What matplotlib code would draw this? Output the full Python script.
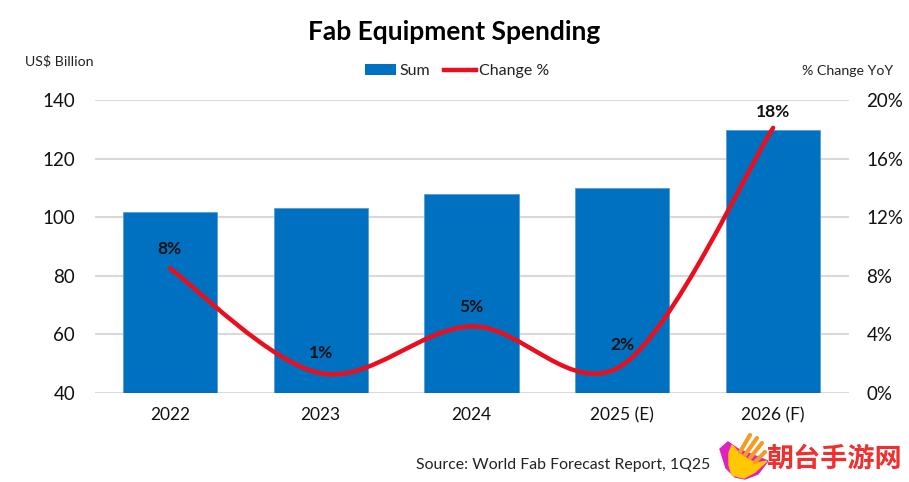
import matplotlib
matplotlib.use("Agg")
import matplotlib.pyplot as plt
from matplotlib.path import Path
from matplotlib.patches import PathPatch, Polygon, Patch
from matplotlib.lines import Line2D

plt.rcParams['font.family'] = ['Lato', 'DejaVu Sans']

years = ['2022', '2023', '2024', '2025 (E)', '2026 (F)']
spending = [101.8, 103.2, 107.8, 109.8, 129.8]
change = [8.5, 1.35, 4.55, 1.9, 18.1]
change_labels = ['8%', '1%', '5%', '2%', '18%']
left_ticks = [40, 60, 80, 100, 120, 140]
right_ticks = [0, 4, 8, 12, 16, 20]

BLUE = '#0070C0'
RED = '#EA0F1E'
W, H = 909, 482

fig = plt.figure(figsize=(W / 100, H / 100), dpi=100)
ax = fig.add_axes([94.5 / W, 1 - 393 / H, 754 / W, 293 / H])
ax2 = ax.twinx()

xs = list(range(len(years)))
ax.bar(xs, spending, width=0.625, color=BLUE, edgecolor='#5B9BD5', linewidth=0.6, zorder=3)
ax.set_xlim(-0.5, 4.5)
ax.set_ylim(40, 140)
ax.set_yticks(left_ticks)
ax.set_xticks(xs, years)
ax.grid(axis='y', color='#D9D9D9', linewidth=1.5, zorder=0)
ax.set_axisbelow(True)
ax.tick_params(axis='y', length=0, labelsize=13.5, labelcolor='#111111', pad=14)
ax.tick_params(axis='x', length=0, labelsize=12.5, labelcolor='#111111', pad=10)

ax2.set_ylim(0, 20)
ax2.set_yticks(right_ticks, [f'{t}%' for t in right_ticks])
ax2.tick_params(axis='y', length=0, labelsize=13.5, labelcolor='#111111', pad=13)
for a in (ax, ax2):
    for s in a.spines.values():
        s.set_visible(False)

# smoothed line like Excel, bezier segments through the data points
verts = [(xs[0], change[0])]
codes = [Path.MOVETO]
n = len(xs)
for i in range(n - 1):
    x0, y0 = xs[max(i - 1, 0)], change[max(i - 1, 0)]
    x1, y1 = xs[i], change[i]
    x2, y2 = xs[i + 1], change[i + 1]
    x3, y3 = xs[min(i + 2, n - 1)], change[min(i + 2, n - 1)]
    verts += [(x1 + (x2 - x0) / 6, y1 + (y2 - y0) / 6),
              (x2 - (x3 - x1) / 6, y2 - (y3 - y1) / 6),
              (x2, y2)]
    codes += [Path.CURVE4] * 3
ax2.add_patch(PathPatch(Path(verts, codes), facecolor='none', edgecolor=RED,
                        linewidth=3.2, capstyle='round', zorder=5))

for x, y, lab in zip(xs, change, change_labels):
    # the last label sits a bit closer to its point
    dy = 6 if lab == '18%' else 8.5
    ax2.annotate(lab, (x, y), xytext=(0, dy), textcoords='offset points', ha='center',
                 va='bottom', fontsize=12.5, fontweight='bold', color='#111111', zorder=6)

fig.text(454.5 / W, 1 - 32 / H, 'Fab Equipment Spending', ha='center', va='center',
         fontsize=19, fontweight='bold', color='black')
fig.text(25 / W, 1 - 61 / H, 'US$ Billion', ha='left', va='center', fontsize=10.2, color='#222222')
fig.text(893 / W, 1 - 71 / H, '% Change YoY', ha='right', va='center', fontsize=10.2, color='#222222')

handles = [Patch(facecolor=BLUE), Line2D([0], [0], color=RED, linewidth=3.2)]
fig.legend(handles, ['Sum', 'Change %'], loc='center', bbox_to_anchor=(457 / W, 1 - 71 / H),
           ncol=2, frameon=False, fontsize=11.5, handlelength=1.95, handletextpad=0.2,
           columnspacing=0.9, labelcolor='#222222')

fig.text(710 / W, 1 - 465 / H, 'Source: World Fab Forecast Report, 1Q25', ha='right', va='center',
         fontsize=11.4, color='#222222')

# watermark
wm = fig.add_axes([0, 0, 1, 1], facecolor='none')
wm.set_xlim(0, W)
wm.set_ylim(H, 0)
wm.axis('off')
wm.add_patch(Polygon([(720, 449), (728, 442), (738, 449), (768, 461), (758, 474), (745, 479),
                      (735, 477), (726, 468)], color='#E020C0'))
wm.add_patch(Polygon([(729, 453), (732, 445), (738, 452), (749, 460), (757, 463), (767, 461),
                      (755, 472), (744, 478), (732, 475), (729, 465)], color='#FFC800'))
for x0, y0, x1, y1 in [(740, 452, 750, 435), (745, 455, 757, 438), (750, 458, 762, 443), (755, 462, 765, 452)]:
    wm.plot([x0, x1], [y0, y1], color='#F59A23', linewidth=3, solid_capstyle='round')
wm.text(834, 459, '朝台手游网', ha='center', va='center', fontsize=19.5, fontweight='bold',
        color='#F03030', family=['Noto Sans CJK SC', 'DejaVu Sans'])

fig.savefig('out.png', dpi=100)
